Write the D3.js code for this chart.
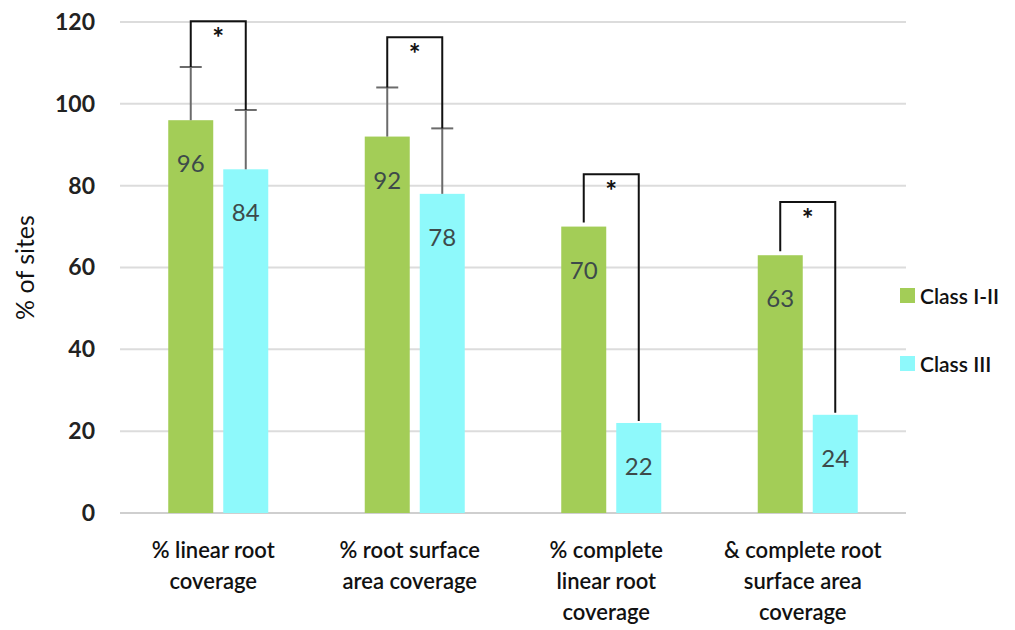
<!DOCTYPE html>
<html>
<head>
<meta charset="utf-8">
<script src="https://cdn.jsdelivr.net/npm/d3@7"></script>
<style>
  html, body { margin: 0; padding: 0; background: #fff; }
  svg { display: block; font-family: Lato, "Open Sans", sans-serif; }
</style>
</head>
<body>
<svg id="chart" width="1015" height="630"></svg>
<script>
// Categories (multi-line labels) and series
const categories = [
  ["% linear root", "coverage"],
  ["% root surface", "area coverage"],
  ["% complete", "linear root", "coverage"],
  ["& complete root", "surface area", "coverage"]
];
const seriesNames = ["Class I-II", "Class III"];
const classI_II = [96, 92, 70, 63];
const classIII = [84, 78, 22, 24];
// Upper error bar ends (null = no error bar)
const errI_II = [109, 104, null, null];
const errIII = [98.5, 94, null, null];
// Significance bracket heights
const bracketTop = [120.2, 116.3, 82.8, 76];
const yTicks = [0, 20, 40, 60, 80, 100, 120];

const colors = ["#a3cd57", "#8ef9fb"];

const svg = d3.select("#chart");
const margin = { left: 120, right: 109, top: 22, bottom: 117 };
const W = 1015, H = 630;
const x0 = margin.left, x1 = W - margin.right;
const yBase = H - margin.bottom;

const y = d3.scaleLinear().domain([0, 120]).range([yBase, margin.top]);
const xg = d3.scaleBand().domain(d3.range(categories.length)).range([x0, x1]).paddingInner(0).paddingOuter(0);
const xs = d3.scaleBand().domain([0, 1]).range([0, xg.bandwidth()]).paddingInner(0.182).paddingOuter(0.877);

// Gridlines
const grid = svg.append("g");
grid.selectAll("line").data(yTicks).join("line")
  .attr("x1", x0).attr("x2", x1)
  .attr("y1", d => y(d)).attr("y2", d => y(d))
  .attr("stroke", d => d === 0 ? "#cfcfcf" : "#dcdcdc")
  .attr("stroke-width", 2);

// Y axis labels
const yAxis = svg.append("g").attr("transform", `translate(${x0 - 25},0)`)
  .call(d3.axisLeft(y).tickValues(yTicks).tickSize(0).tickPadding(0));
yAxis.select(".domain").remove();
yAxis.selectAll("text")
  .attr("font-family", "Lato, sans-serif")
  .attr("font-size", 23).attr("font-weight", 700).attr("fill", "#222");

// Y axis title
svg.append("text")
  .attr("transform", `translate(34,${(y(0) + y(120)) / 2}) rotate(-90)`)
  .attr("text-anchor", "middle")
  .attr("font-size", 25).attr("fill", "#111")
  .text("% of sites");

// Bars
const seriesData = [classI_II, classIII];
const barX = (i, s) => xg(i) + xs(s);
const bw = xs.bandwidth();
seriesData.forEach((vals, s) => {
  svg.append("g").selectAll("rect").data(vals).join("rect")
    .attr("x", (d, i) => barX(i, s))
    .attr("y", d => y(d))
    .attr("width", bw)
    .attr("height", d => y(0) - y(d))
    .attr("fill", colors[s]);
});

// Error bars
[errI_II, errIII].forEach((errs, s) => {
  const g = svg.append("g").attr("stroke", "#6b6b6b").attr("stroke-width", 2);
  errs.forEach((e, i) => {
    if (e == null) return;
    const cx = barX(i, s) + bw / 2;
    g.append("line").attr("x1", cx).attr("x2", cx)
      .attr("y1", y(seriesData[s][i])).attr("y2", y(e));
    g.append("line").attr("x1", cx - 11).attr("x2", cx + 11)
      .attr("y1", y(e)).attr("y2", y(e));
  });
});

// Significance brackets
const br = svg.append("g");
bracketTop.forEach((t, i) => {
  const lx = barX(i, 0) + bw / 2;
  const rx = barX(i, 1) + bw / 2;
  const ly = errI_II[i] != null ? errI_II[i] : classI_II[i] + 1;
  const ry = errIII[i] != null ? errIII[i] : classIII[i] + 0.5;
  br.append("path")
    .attr("d", `M${lx},${y(ly)} V${y(t)} H${rx} V${y(ry)}`)
    .attr("fill", "none").attr("stroke", "#111").attr("stroke-width", 2);
  br.append("text")
    .attr("x", (lx + rx) / 2).attr("y", y(t) + 27)
    .attr("text-anchor", "middle")
    .attr("font-size", 28).attr("font-weight", 700).attr("fill", "#111")
    .text("*");
});

// Value labels
seriesData.forEach((vals, s) => {
  svg.append("g").selectAll("text").data(vals).join("text")
    .attr("x", (d, i) => barX(i, s) + bw / 2)
    .attr("y", d => y(d) + 52)
    .attr("text-anchor", "middle")
    .attr("font-size", 24).attr("fill", "#3d4a4a")
    .text(d => d);
});

// Category labels
categories.forEach((lines, i) => {
  const cx = xg(i) + xg.bandwidth() / 2 - 5;
  const t = svg.append("text")
    .attr("x", cx)
    .attr("y", yBase + 45)
    .attr("text-anchor", "middle")
    .attr("font-size", 22).attr("font-weight", 600).attr("fill", "#111");
  lines.forEach((ln, k) => {
    t.append("tspan").attr("x", cx)
      .attr("dy", k === 0 ? 0 : 31).text(ln);
  });
});

// Legend
const legend = svg.append("g").attr("transform", `translate(900,288)`);
seriesNames.forEach((name, s) => {
  const g = legend.append("g").attr("transform", `translate(0,${s * 68})`);
  g.append("rect").attr("width", 15).attr("height", 15).attr("fill", colors[s]);
  g.append("text").attr("x", 20).attr("y", 16)
    .attr("font-size", 21).attr("font-weight", 600).attr("fill", "#111")
    .text(name);
});
</script>
</body>
</html>
